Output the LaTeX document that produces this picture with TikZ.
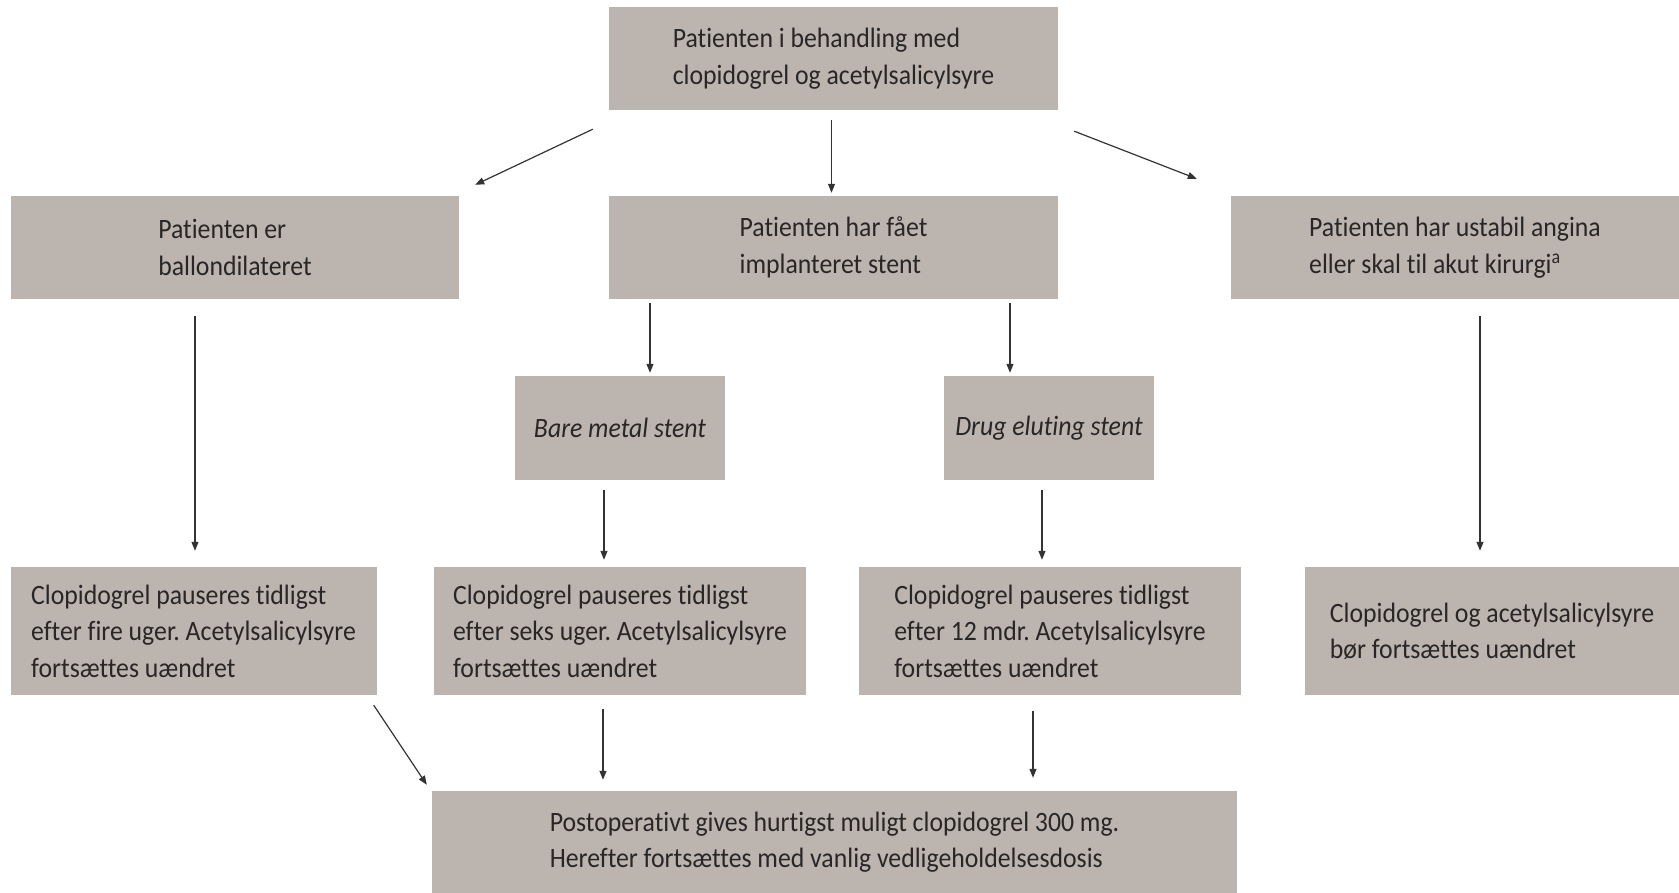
\documentclass[tikz,border=0pt]{standalone}
\usepackage{fontspec}
\setmainfont{Carlito}[FakeStretch=0.92, Ligatures=NoCommon]
\usepackage{xcolor}
\usepackage{tikz}
\usetikzlibrary{arrows.meta, calc}
\definecolor{boxgray}{RGB}{187,180,175}
\definecolor{txtgray}{RGB}{40,38,38}
\frenchspacing

\begin{document}
\begin{tikzpicture}[x=1pt, y=-1pt,
    box/.style={rectangle, fill=boxgray, text=txtgray, align=left, inner sep=0pt,
      font=\fontsize{28}{36.4}\selectfont},
    arr/.style={-{Triangle[length=9pt,width=7pt]}, draw=black!80, line width=1.2pt}]
  \useasboundingbox (0,0) rectangle (1679,893);

  % top
  \node[box, minimum width=449pt, minimum height=103pt] (top) at (833.5,58.5)
    {Patienten i behandling med\\clopidogrel og acetylsalicylsyre};

  % second row
  \node[box, minimum width=448pt, minimum height=103pt] (balloon) at (235,247.5)
    {Patienten er\\ballondilateret};
  \node[box, minimum width=449pt, minimum height=103pt] (stent) at (833.5,247.5)
    {Patienten har fået\\implanteret stent};
  \node[box, minimum width=448pt, minimum height=103pt] (unstable) at (1455,247.5)
    {Patienten har ustabil angina\\eller skal til akut kirurgi\textsuperscript{a}};

  % stent types
  \node[box, minimum width=210pt, minimum height=104pt] (bms) at (620,428)
    {\itshape Bare metal stent};
  \node[box, minimum width=210pt, minimum height=104pt] (des) at (1049,428)
    {\itshape Drug eluting stent};

  % fourth row
  \node[box, minimum width=366pt, minimum height=128pt] (weeks4) at (193.5,631)
    {Clopidogrel pauseres tidligst\\efter fire uger. Acetylsalicylsyre\\fortsættes uændret};
  \node[box, minimum width=372pt, minimum height=128pt] (weeks6) at (620,631)
    {Clopidogrel pauseres tidligst\\efter seks uger. Acetylsalicylsyre\\fortsættes uændret};
  \node[box, minimum width=382pt, minimum height=128pt] (months12) at (1050,631)
    {Clopidogrel pauseres tidligst\\efter 12 mdr. Acetylsalicylsyre\\fortsættes uændret};
  \node[box, minimum width=374pt, minimum height=128pt] (continue) at (1492,631)
    {Clopidogrel og acetylsalicylsyre\\bør fortsættes uændret};

  % bottom
  \node[box, minimum width=805pt, minimum height=102pt] (postop) at (834.5,842)
    {Postoperativt gives hurtigst muligt clopidogrel 300 mg.\\Herefter fortsættes med vanlig vedligeholdelsesdosis};

  % arrows
  \draw[arr] ($(top.south west)+(-16,19)$) -- ($(balloon.north east)+(16,-11)$);
  \draw[arr] ($(top.south)+(-2,10)$) -- ($(stent.north)+(-2,-3)$);
  \draw[arr] ($(top.south east)+(16,21)$) -- ($(unstable.north west)+(-34,-17)$);
  \draw[arr] ($(balloon.south)+(-40,17)$) -- ($(weeks4.north)+(1.5,-16)$);
  \draw[arr] ($(stent.south)+(-183.5,4)$) -- ($(bms.north)+(30,-3)$);
  \draw[arr] ($(stent.south)+(176.5,4)$) -- ($(des.north)+(-39,-3)$);
  \draw[arr] ($(unstable.south)+(25,17)$) -- ($(continue.north)+(-12,-16)$);
  \draw[arr] ($(bms.south)+(-16,10)$) -- ($(weeks6.north)+(-16,-7)$);
  \draw[arr] ($(des.south)+(-7,10)$) -- ($(months12.north)+(-8,-7)$);
  \draw[arr] ($(weeks4.south east)+(-3,10)$) -- ($(postop.north west)+(-5,-6)$);
  \draw[arr] ($(weeks6.south)+(-17,14)$) -- ($(postop.north)+(-231.5,-11)$);
  \draw[arr] ($(months12.south)+(-17,16)$) -- ($(postop.north)+(198.5,-13)$);
\end{tikzpicture}
\end{document}
